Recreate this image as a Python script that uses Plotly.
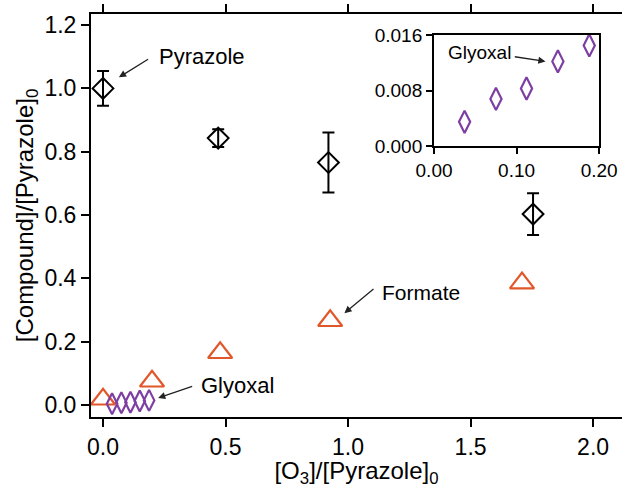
import plotly.graph_objects as go

# Pyrazole
pyr_x = [0.0, 0.47, 0.92, 1.755]
pyr_y = [1.0, 0.843, 0.766, 0.603]
pyr_err = [0.055, 0.028, 0.095, 0.066]

# Formate
form_x = [0.0, 0.20, 0.478, 0.927, 1.71]
form_y = [0.018, 0.075, 0.165, 0.266, 0.385]

# Glyoxal
gly_x = [0.037, 0.075, 0.112, 0.150, 0.188]
gly_y = [0.0035, 0.0068, 0.0083, 0.0122, 0.0145]

ORANGE = "#E2572A"
PURPLE = "#7E3FA3"
FONT = "Liberation Sans"

fig = go.Figure()

fig.add_trace(go.Scatter(
    x=form_x, y=form_y, mode="markers",
    marker=dict(symbol="triangle-up-open", size=21, color=ORANGE, line=dict(width=2.2, color=ORANGE)),
    xaxis="x", yaxis="y", showlegend=False))
fig.add_trace(go.Scatter(
    x=gly_x, y=gly_y, mode="markers",
    marker=dict(symbol="diamond-tall-open", size=15, color=PURPLE, line=dict(width=2.2, color=PURPLE)),
    xaxis="x", yaxis="y", showlegend=False))
fig.add_trace(go.Scatter(
    x=pyr_x, y=pyr_y, mode="markers",
    error_y=dict(type="data", array=pyr_err, visible=True, color="black", thickness=2, width=6),
    marker=dict(symbol="diamond-open", size=16, color="black", line=dict(width=2, color="black")),
    xaxis="x", yaxis="y", showlegend=False))

# inset
fig.add_trace(go.Scatter(
    x=gly_x, y=gly_y, mode="markers",
    marker=dict(symbol="diamond-tall-open", size=16, color=PURPLE, line=dict(width=2.2, color=PURPLE)),
    xaxis="x2", yaxis="y2", showlegend=False))

axis_common = dict(showgrid=False, zeroline=False, showline=True, linecolor="black", linewidth=2,
                   ticks="outside", tickcolor="black", tickwidth=2, automargin=False)

fig.update_layout(
    width=622, height=488,
    margin=dict(l=91, r=0, t=14, b=71),
    plot_bgcolor="white", paper_bgcolor="white",
    font=dict(family=FONT, color="black"),
    xaxis=dict(**axis_common, range=[-0.049, 2.118], tickvals=[0, 0.5, 1.0, 1.5, 2.0],
               ticktext=["0.0", "0.5", "1.0", "1.5", "2.0"], ticklen=8, mirror="ticks",
               tickfont=dict(size=23), domain=[0, 1],
               title=dict(text="[O<sub>3</sub>]/[Pyrazole]<sub>0</sub>", font=dict(size=24), standoff=3)),
    yaxis=dict(**axis_common, range=[-0.038, 1.235], tickvals=[0, 0.2, 0.4, 0.6, 0.8, 1.0, 1.2],
               ticktext=["0.0", "0.2", "0.4", "0.6", "0.8", "1.0", "1.2"], ticklen=8,
               tickfont=dict(size=23), domain=[0, 1],
               title=dict(text="[Compound]/[Pyrazole]<sub>0</sub>", font=dict(size=24), standoff=4)),
    xaxis2=dict(**axis_common, range=[0, 0.2], tickvals=[0, 0.1, 0.2], ticktext=["0.00", "0.10", "0.20"],
                ticklen=6, mirror=True, tickfont=dict(size=19), domain=[0.646, 0.957], anchor="y2"),
    yaxis2=dict(**axis_common, range=[0, 0.016], tickvals=[0, 0.008, 0.016],
                ticktext=["0.000", "0.008", "0.016"], ticklen=6, mirror=True,
                tickfont=dict(size=19), domain=[0.672, 0.948], anchor="x2"),
)

def arrow_ann(text, tx, ty, hx, hy, xref, yref, sx, sy, size):
    fig.add_annotation(x=tx, y=ty, xref=xref, yref=yref, text=text, showarrow=False,
                       font=dict(family=FONT, size=size, color="black"),
                       xanchor="left", yanchor="middle")
    fig.add_annotation(x=hx, y=hy, ax=sx, ay=sy, xref=xref, yref=yref, axref=xref, ayref=yref,
                       text="", showarrow=True, arrowhead=2, arrowsize=1.1, arrowwidth=1.3, arrowcolor="#222")

arrow_ann("Pyrazole", 0.22, 1.10, 0.065, 1.035, "x", "y", 0.19, 1.095, 22)
arrow_ann("Formate", 1.13, 0.355, 0.985, 0.29, "x", "y", 1.11, 0.37, 21)
arrow_ann("Glyoxal", 0.39, 0.06, 0.225, 0.022, "x", "y", 0.37, 0.06, 22)
arrow_ann("Glyoxal", 0.015, 0.0135, 0.135, 0.0122, "x2", "y2", 0.096, 0.0129, 19)

fig.write_html("out.html", config={"displayModeBar": False},
               post_script="document.body.style.margin='0';document.body.style.overflow='hidden';")
